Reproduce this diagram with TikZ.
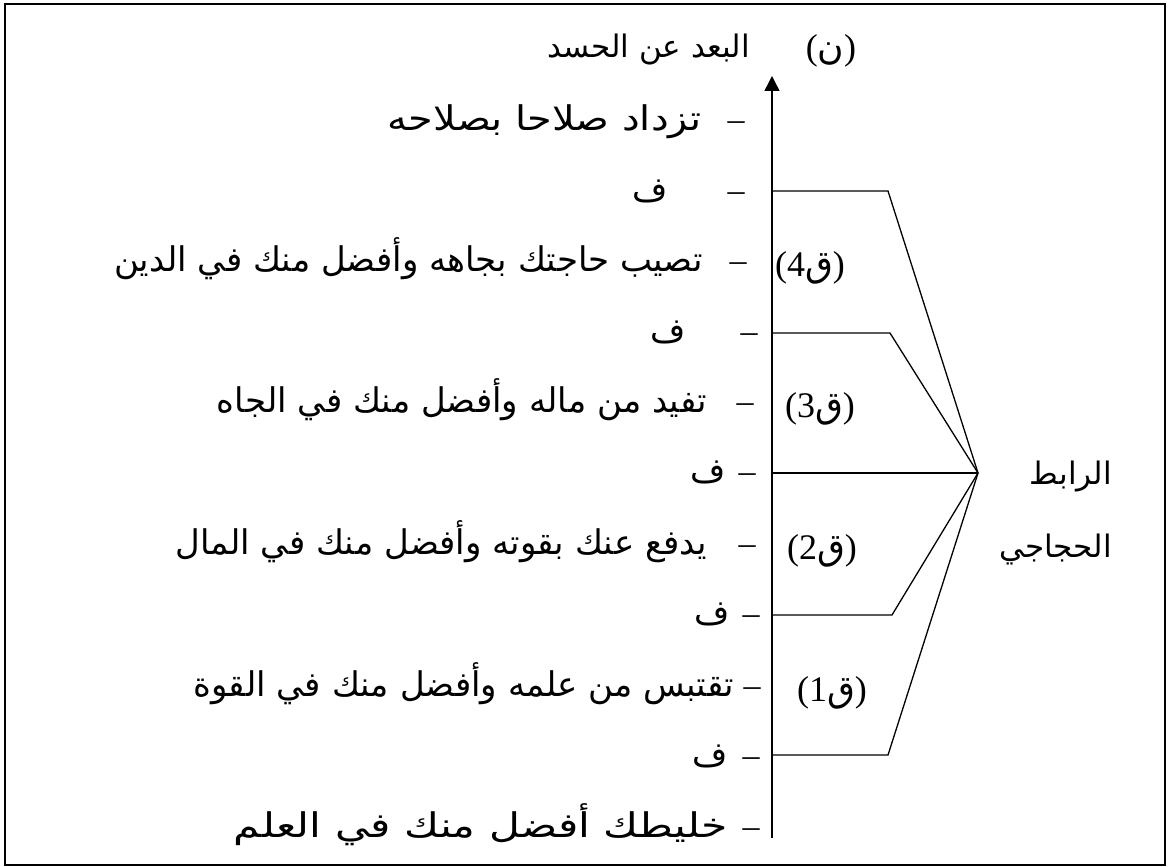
\documentclass[tikz,border=0pt]{standalone}
\usepackage{graphicx}
\usepackage{fontspec}
\setmainfont{Liberation Serif}
\newfontfamily\arabicfont[Script=Arabic]{DejaVu Sans}
\usetikzlibrary{arrows.meta}
\TeXXeTstate=1

\tikzset{
  frame/.style={line width=1.6pt},
  link/.style={line width=1.3pt, line join=miter},
  axisline/.style={line width=1.4pt, -{Triangle[length=15pt,width=15pt]}},
  ar/.style={inner sep=0pt, anchor=base east, font=\fontsize{34}{40}\selectfont\arabicfont},
  arsmall/.style={ar, font=\fontsize{31}{37}\selectfont\arabicfont},
  dashmark/.style={inner sep=0pt, anchor=base, font=\fontsize{34}{40}\selectfont},
  premise/.style={inner sep=0pt, anchor=base, font=\fontsize{36}{42}\selectfont},
}

\begin{document}
\begin{tikzpicture}[x=1pt, y=-1pt]
\useasboundingbox (0,0) rectangle (1168,867);
\draw[frame] (5,4) rectangle (1165,865);

% scale axis and its junction points
\coordinate (axbot) at (772,838);
\coordinate (axtop) at (772,76);
\coordinate (j4) at (772,191);
\coordinate (j3) at (772,333);
\coordinate (j0) at (772,473);
\coordinate (j2) at (772,615);
\coordinate (j1) at (772,755);
\coordinate (hub) at (978,473);
\coordinate (k4) at (888,191);
\coordinate (k3) at (890,333);
\coordinate (k2) at (892,615);
\coordinate (k1) at (888,755);

\draw[axisline] (axbot) -- (axtop);
\draw[link] (j4) -- (k4) -- (hub);
\draw[link] (j3) -- (k3) -- (hub);
\draw[link] (j0) -- (hub);
\draw[link] (j2) -- (k2) -- (hub);
\draw[link] (j1) -- (k1) -- (hub);

% top of the scale
\node[arsmall] (title) at (750,58) {\beginR البعد عن الحسد\endR};
\node[premise] (n) at (831,60) {({\arabicfont ن})};

% rows of arguments, top to bottom
\node[dashmark] (d2) at (736,130) {–};
\node[ar] (t2) at (702,130) {\scalebox{1.17}[1]{\beginR تزداد صلاحا بصلاحه\endR}};

\node[dashmark] (d3) at (736,201) {–};
\node[ar] (t3) at (668,201) {ف};

\node[dashmark] (d4) at (738,271) {–};
\node[ar] (t4) at (703,271) {\beginR تصيب حاجتك بجاهه وأفضل منك في الدين\endR};
\node[premise] (q4) at (810,276) {(4{\arabicfont ق})};

\node[dashmark] (d5) at (749,342) {–};
\node[ar] (t5) at (686,342) {ف};

\node[dashmark] (d6) at (745,412) {–};
\node[ar] (t6) at (707,412) {\beginR تفيد من ماله وأفضل منك في الجاه\endR};
\node[premise] (q3) at (820,417) {(3{\arabicfont ق})};

\node[dashmark] (d7) at (747,482) {–};
\node[ar] (t7) at (726,482) {ف};

\node[dashmark] (d8) at (747,554) {–};
\node[ar] (t8) at (707,554) {\beginR يدفع عنك بقوته وأفضل منك في المال\endR};
\node[premise] (q2) at (822,559) {(2{\arabicfont ق})};

\node[dashmark] (d9) at (751,624) {–};
\node[ar] (t9) at (730,624) {ف};

\node[dashmark] (d10) at (752,696) {–};
\node[ar] (t10) at (734,696) {\beginR تقتبس من علمه وأفضل منك في القوة\endR};
\node[premise] (q1) at (832,701) {(1{\arabicfont ق})};

\node[dashmark] (d11) at (751,766) {–};
\node[ar] (t11) at (728,766) {ف};

\node[dashmark] (d12) at (751,837) {–};
\node[ar] (t12) at (728,837) {\scalebox{1.25}[1]{\beginR خليطك أفضل منك في العلم\endR}};

% label of the connective
\node[arsmall] (rabit) at (1112,484) {\beginR الرابط\endR};
\node[arsmall] (hijaji) at (1112,557) {\beginR الحجاجي\endR};
\end{tikzpicture}
\end{document}
